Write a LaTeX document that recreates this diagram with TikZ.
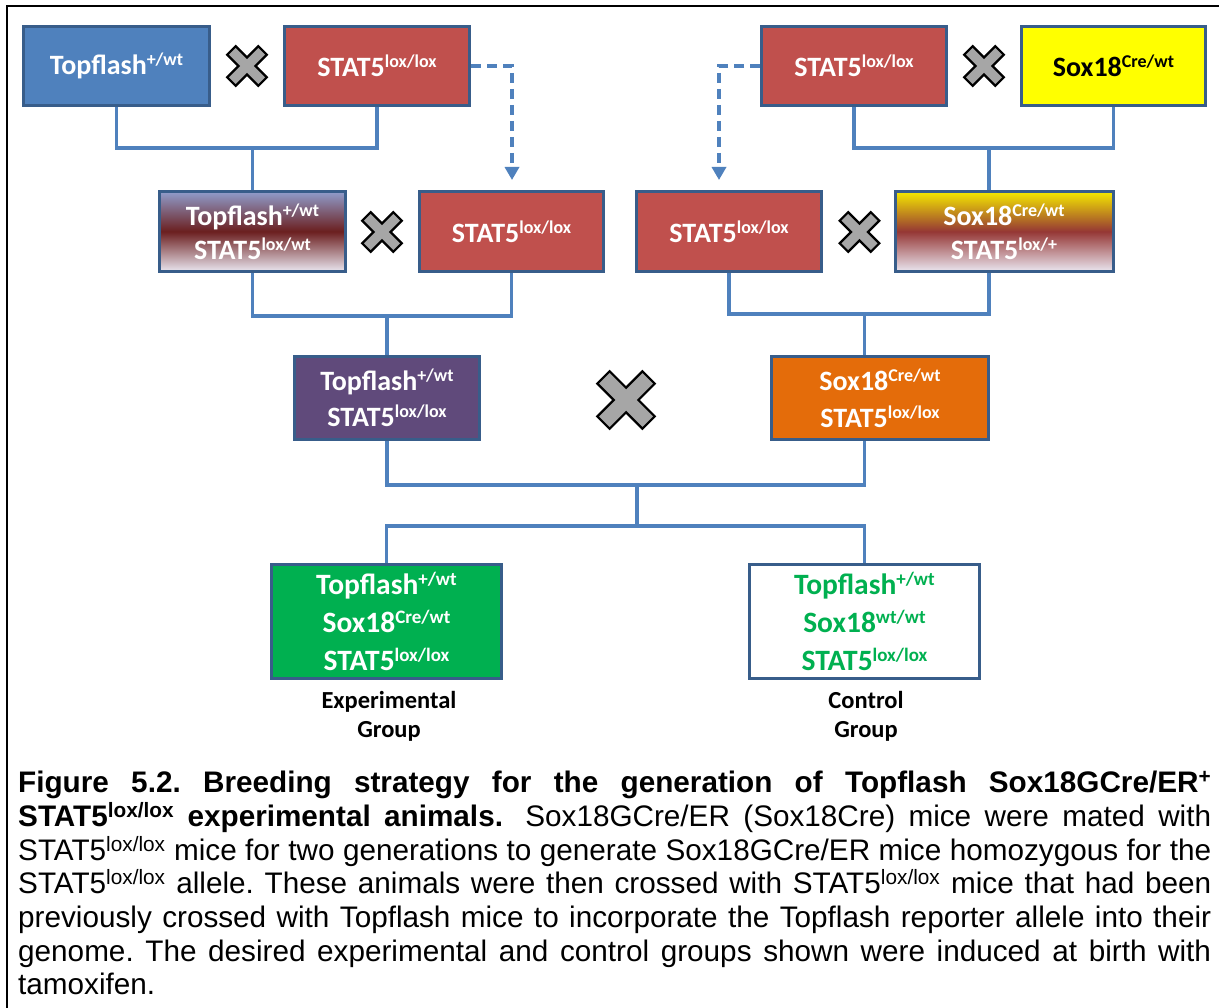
\documentclass[tikz,border=0pt]{standalone}
\usepackage{fontspec}
\setmainfont{Liberation Sans}
\newfontfamily\carl{Carlito}
\usetikzlibrary{arrows.meta,calc}
\definecolor{bxblue}{HTML}{4F81BD}
\definecolor{bxred}{HTML}{C0504D}
\definecolor{bxyellow}{HTML}{FFFF00}
\definecolor{bxpurple}{HTML}{604A7B}
\definecolor{bxorange}{HTML}{E46C0A}
\definecolor{bxgreen}{HTML}{00B050}
\definecolor{bordc}{HTML}{385D8A}
\definecolor{lnblue}{HTML}{4F81BD}
\definecolor{xgray}{HTML}{A6A6A6}
\definecolor{gtopblue}{HTML}{909DCC}
\definecolor{gmidred}{HTML}{6B1F1F}
\definecolor{gbot}{HTML}{EAE6F0}
\definecolor{gtopyel}{HTML}{F5E900}
\definecolor{gmidred2}{HTML}{953735}
\newcommand\gsup[1]{\raisebox{9pt}{\fontsize{18}{18}\selectfont #1}}
\newcommand\gsupb[1]{\raisebox{9.5pt}{\fontsize{19}{19}\selectfont #1}}
\tikzset{
  gbox/.style={draw=bordc, line width=3pt, inner sep=0pt, align=center,
    text=white, font=\carl\bfseries\fontsize{28}{34}\selectfont},
  conn/.style={draw=lnblue, line width=3.5pt},
  dconn/.style={draw=lnblue, line width=3.5pt, dash pattern=on 10pt off 6pt,
    -{Triangle[length=13pt,width=14pt]}},
  grplabel/.style={inner sep=0pt, align=center,
    font=\carl\bfseries\fontsize{24.5}{29}\selectfont},
  xmark/.pic={\draw[line width=2.2pt, fill=xgray, rotate=45, line join=miter]
    (-6,-22) -- (6,-22) -- (6,-6) -- (22,-6) -- (22,6) -- (6,6) -- (6,22)
    -- (-6,22) -- (-6,6) -- (-22,6) -- (-22,-6) -- (-6,-6) -- cycle;}
}
\begin{document}
\begin{tikzpicture}[x=1pt,y=-1pt]
\useasboundingbox (0,0) rectangle (1219,1008);
\fill[white] (0,0) rectangle (1219,1008);
\draw[black, line width=2pt] (1219,6) -- (7,6) -- (7,1008);

% row 1
\node[gbox, fill=bxblue, minimum width=186pt, minimum height=79pt] (A) at (116.5,66) {Topflash\gsup{+/wt}};
\node[gbox, fill=bxred, minimum width=185pt, minimum height=79pt] (B) at (377,66) {STAT5\gsup{lox/lox}};
\node[gbox, fill=bxred, minimum width=185pt, minimum height=79pt] (C) at (854,66) {STAT5\gsup{lox/lox}};
\node[gbox, fill=bxyellow, text=black, minimum width=184pt, minimum height=79pt] (D) at (1113.5,66) {Sox18\gsup{Cre/wt}};

% row 2
\node[gbox, top color=gtopblue, bottom color=gbot, middle color=gmidred, minimum width=186pt, minimum height=80pt] (E) at (252.5,231.5) {Topflash\gsup{+/wt}\\STAT5\gsup{lox/wt}};
\node[gbox, fill=bxred, minimum width=184pt, minimum height=80pt] (F) at (511.5,231.5) {STAT5\gsup{lox/lox}};
\node[gbox, fill=bxred, minimum width=185pt, minimum height=80pt] (G) at (729,231.5) {STAT5\gsup{lox/lox}};
\node[gbox, top color=gtopyel, bottom color=gbot, middle color=gmidred2, minimum width=218pt, minimum height=80pt] (H) at (1004,231.5) {Sox18\gsup{Cre/wt}\\STAT5\gsup{lox/+}};

% row 3
\node[gbox, fill=bxpurple, font=\carl\bfseries\fontsize{28}{36}\selectfont, minimum width=185pt, minimum height=83pt] (I) at (387,398) {Topflash\gsup{+/wt}\\STAT5\gsup{lox/lox}};
\node[gbox, fill=bxorange, font=\carl\bfseries\fontsize{28}{37}\selectfont, minimum width=217pt, minimum height=83pt] (J) at (880,398) {Sox18\gsup{Cre/wt}\\STAT5\gsup{lox/lox}};

% row 4
\node[gbox, fill=bxgreen, font=\carl\bfseries\fontsize{29.5}{38}\selectfont, minimum width=230pt, minimum height=114pt] (K) at (386.5,621.5) {Topflash\gsupb{+/wt}\\Sox18\gsupb{Cre/wt}\\STAT5\gsupb{lox/lox}};
\node[gbox, fill=white, text=bxgreen, font=\carl\bfseries\fontsize{29.5}{38}\selectfont, minimum width=230pt, minimum height=114pt] (L) at (864.5,621.5) {Topflash\gsupb{+/wt}\\Sox18\gsupb{wt/wt}\\STAT5\gsupb{lox/lox}};

\node[grplabel] (Klab) at (389,716) {Experimental\\Group};
\node[grplabel] (Llab) at (866,716) {Control\\Group};

% junction coordinates
\coordinate (m1) at (252.5,148);
\coordinate (m2) at (989,148);
\coordinate (m3) at (387,316);
\coordinate (m4) at (864.5,314);
\coordinate (m5) at (637,485);
\coordinate (m6) at (637,526);
\coordinate (d1) at (512,180);
\coordinate (d2) at (719,180);

% connectors
\draw[conn] (A.south) |- (m1) -| (B.south);
\draw[conn] (m1) -- (E.north);
\draw[conn] (C.south) |- (m2) -| (D.south);
\draw[conn] (m2) -- (H.north -| m2);
\draw[conn] (E.south) |- (m3) -| (F.south);
\draw[conn] (m3) -- (I.north);
\draw[conn] (G.south) |- (m4) -| (H.south -| m2);
\draw[conn] (m4) -- (J.north -| m4);
\draw[conn] (I.south) |- (m5) -| (J.south -| m4);
\draw[conn] (m5) -- (m6);
\draw[conn] (K.north) |- (m6) -| (L.north);

\draw[dconn] (B.east) -| (d1);
\draw[dconn] (C.west) -| (d2);

% crosses
\pic at (247,66) {xmark};
\pic at (984,66) {xmark};
\pic at (382,232) {xmark};
\pic at (859.5,232) {xmark};
\pic[scale=1.45] at (626,400) {xmark};

% caption
\node[anchor=north west, inner sep=0pt, text width=1193pt, align=justify,
  font=\fontsize{29.7}{33.7}\selectfont] (cap) at (18,771)
{\frenchspacing\tolerance=10000\hbadness=10000\hyphenpenalty=10000
{\bfseries Figure 5.2. Breeding strategy for the generation of Topflash Sox18GCre/ER\textsuperscript{+}\linebreak
STAT5\textsuperscript{lox/lox} experimental animals.}\hspace{0.3em} Sox18GCre/ER (Sox18Cre) mice were mated with\linebreak
STAT5\textsuperscript{lox/lox} mice for two generations to generate Sox18GCre/ER mice homozygous for the\linebreak
STAT5\textsuperscript{lox/lox} allele. These animals were then crossed with STAT5\textsuperscript{lox/lox} mice that had been\linebreak
previously crossed with Topflash mice to incorporate the Topflash reporter allele into their\linebreak
genome. The desired experimental and control groups shown were induced at birth with\linebreak
tamoxifen.\par};
\end{tikzpicture}
\end{document}
